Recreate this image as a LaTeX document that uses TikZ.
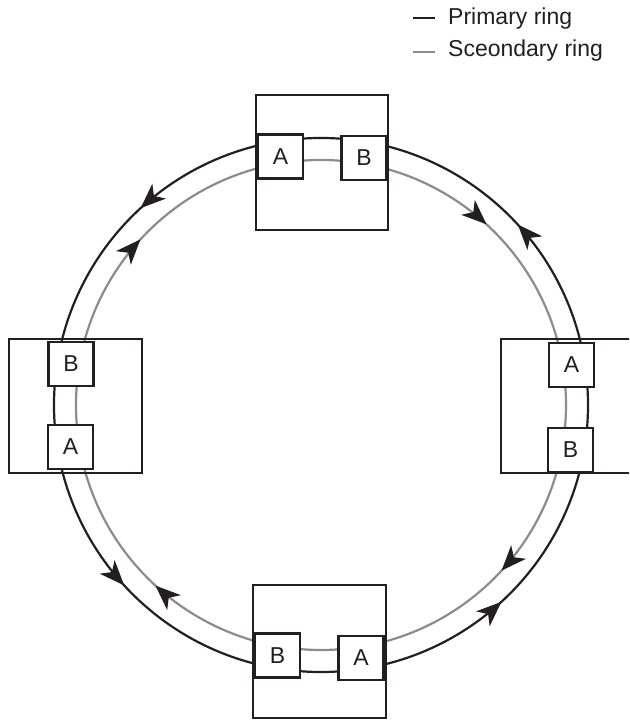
\documentclass[tikz,border=0pt]{standalone}
\usepackage{fontspec}
\setmainfont{Liberation Sans}
\usetikzlibrary{arrows.meta,decorations.markings}
\definecolor{ringblack}{HTML}{231F20}
\definecolor{ringgray}{HTML}{8C8C8C}
\begin{document}
\begin{tikzpicture}[x=1pt,y=1pt,
  prim/.style={draw=ringblack,line width=2.2pt},
  sec/.style={draw=ringgray,line width=2.2pt},
  port/.style={draw=ringblack,line width=2.2pt,fill=white,minimum width=45pt,minimum height=44pt,inner sep=0pt,font=\fontsize{23}{27}\selectfont,text=ringblack},
  station/.style={draw=ringblack,line width=2.2pt,inner sep=0pt},
  legtext/.style={anchor=base west,inner sep=0pt,font=\fontsize{23}{27}\selectfont,text=ringblack}
]
\clip (0,0) rectangle (629,720);
\coordinate (c) at (321,315);
% primary ring (counterclockwise on screen)
\draw[prim, postaction={decorate}, decoration={markings,
  mark=at position 42.5/360 with {\arrow[ringblack]{Stealth[length=25pt,width=20pt,inset=7pt]}},
  mark=at position 132.5/360 with {\arrow[ringblack]{Stealth[length=25pt,width=20pt,inset=7pt]}},
  mark=at position 222.5/360 with {\arrow[ringblack]{Stealth[length=25pt,width=20pt,inset=7pt]}},
  mark=at position 312.5/360 with {\arrow[ringblack]{Stealth[length=25pt,width=20pt,inset=7pt]}}}]
  (c) circle[radius=267pt];
% secondary ring (clockwise on screen)
\draw[sec, postaction={decorate}, decoration={markings,
  mark=at position 47.5/360 with {\arrowreversed[ringblack]{Stealth[length=25pt,width=20pt,inset=7pt]}},
  mark=at position 137.5/360 with {\arrowreversed[ringblack]{Stealth[length=25pt,width=20pt,inset=7pt]}},
  mark=at position 227.5/360 with {\arrowreversed[ringblack]{Stealth[length=25pt,width=20pt,inset=7pt]}},
  mark=at position 317.5/360 with {\arrowreversed[ringblack]{Stealth[length=25pt,width=20pt,inset=7pt]}}}]
  (c) circle[radius=245pt];
% stations
\node[station,minimum width=132pt,minimum height=135pt] (sttop) at (322,557.5) {};
\node[station,minimum width=133pt,minimum height=134pt] (stleft) at (75.5,314) {};
\node[station,minimum width=144pt,minimum height=134pt] (stright) at (573,314) {};
\node[station,minimum width=133pt,minimum height=133pt] (stbot) at (319.5,68.5) {};
% ports
\node[port] (topA) at (280.5,563.5) {A};
\node[port] (topB) at (364,562) {B};
\node[port] (leftB) at (71,356) {B};
\node[port] (leftA) at (70.5,273) {A};
\node[port] (rightA) at (571.5,355) {A};
\node[port] (rightB) at (570.5,270) {B};
\node[port] (botB) at (277.5,64.5) {B};
\node[port] (botA) at (361,62) {A};
% legend
\coordinate (l1a) at (413,702);
\coordinate (l1b) at (435,702);
\coordinate (l2a) at (413,668);
\coordinate (l2b) at (435,668);
\draw[prim,line width=2.8pt] (l1a) -- (l1b);
\draw[sec,line width=2.8pt] (l2a) -- (l2b);
\node[legtext] (leg1) at (448,695) {Primary ring};
\node[legtext] (leg2) at (448,663) {Sceondary ring};
\end{tikzpicture}
\end{document}
